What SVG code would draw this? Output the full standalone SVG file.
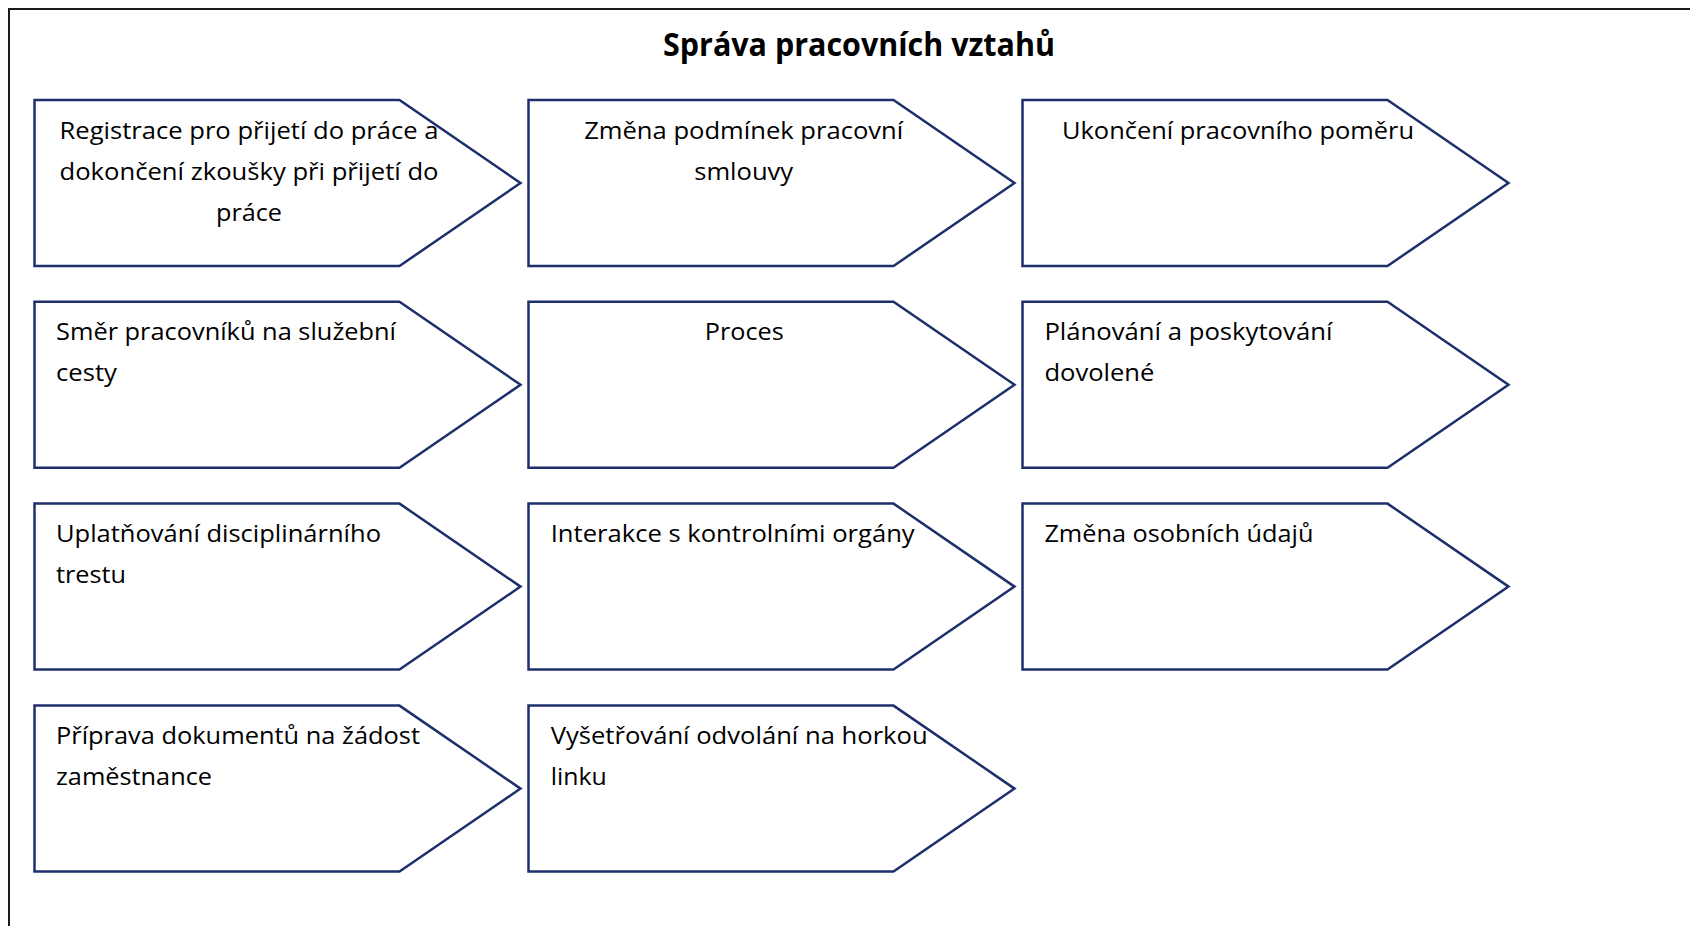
<svg xmlns="http://www.w3.org/2000/svg" xmlns:xlink="http://www.w3.org/1999/xlink" width="1690" height="926" viewBox="0 0 1690 926">
  <style>
    .frame { fill: #ffffff; stroke: #1a1a1a; stroke-width: 2; }
    .chev { fill: #ffffff; stroke: #1f2f6b; stroke-width: 2.5; stroke-linejoin: miter; }
    .title { font-family: "Open Sans", "Liberation Sans", sans-serif; font-weight: 700; font-size: 32px; fill: #000; }
    .lbl { font-family: "Open Sans", "Liberation Sans", sans-serif; font-size: 24.5px; fill: #000; }
    .c { text-anchor: middle; }
  </style>
  <defs>
    <path id="chev" class="chev" d="M0,0 H365 L486,83 L365,166 H0 Z"/>
  </defs>
  <rect x="0" y="0" width="1690" height="926" fill="#ffffff"/>
  <rect class="frame" x="9" y="9" width="1720" height="960"/>
  <text class="title c" x="859" y="56" textLength="392" lengthAdjust="spacingAndGlyphs">Správa pracovních vztahů</text>
  <g id="connectors"/>

  <g id="n1">
    <use xlink:href="#chev" x="34.5" y="100"/>
    <text class="lbl c" x="249" y="138.5" textLength="379" lengthAdjust="spacingAndGlyphs">Registrace pro přijetí do práce a</text>
    <text class="lbl c" x="249" y="179.5" textLength="379" lengthAdjust="spacingAndGlyphs">dokončení zkoušky při přijetí do</text>
    <text class="lbl c" x="249" y="220.5" textLength="66" lengthAdjust="spacingAndGlyphs">práce</text>
  </g>
  <g id="n2">
    <use xlink:href="#chev" x="528.5" y="100"/>
    <text class="lbl c" x="743.7" y="138.5" textLength="319" lengthAdjust="spacingAndGlyphs">Změna podmínek pracovní</text>
    <text class="lbl c" x="743.7" y="179.5" textLength="99" lengthAdjust="spacingAndGlyphs">smlouvy</text>
  </g>
  <g id="n3">
    <use xlink:href="#chev" x="1022.5" y="100"/>
    <text class="lbl c" x="1238" y="138.5" textLength="352" lengthAdjust="spacingAndGlyphs">Ukončení pracovního poměru</text>
  </g>

  <g id="n4">
    <use xlink:href="#chev" x="34.5" y="301.8"/>
    <text class="lbl" x="56" y="340" textLength="340" lengthAdjust="spacingAndGlyphs">Směr pracovníků na služební</text>
    <text class="lbl" x="56" y="381" textLength="61" lengthAdjust="spacingAndGlyphs">cesty</text>
  </g>
  <g id="n5">
    <use xlink:href="#chev" x="528.5" y="301.8"/>
    <text class="lbl c" x="744.3" y="340" textLength="79" lengthAdjust="spacingAndGlyphs">Proces</text>
  </g>
  <g id="n6">
    <use xlink:href="#chev" x="1022.5" y="301.8"/>
    <text class="lbl" x="1044.4" y="340" textLength="288" lengthAdjust="spacingAndGlyphs">Plánování a poskytování</text>
    <text class="lbl" x="1044.4" y="381" textLength="110" lengthAdjust="spacingAndGlyphs">dovolené</text>
  </g>

  <g id="n7">
    <use xlink:href="#chev" x="34.5" y="503.6"/>
    <text class="lbl" x="56" y="541.8" textLength="325" lengthAdjust="spacingAndGlyphs">Uplatňování disciplinárního</text>
    <text class="lbl" x="56" y="582.8" textLength="70" lengthAdjust="spacingAndGlyphs">trestu</text>
  </g>
  <g id="n8">
    <use xlink:href="#chev" x="528.5" y="503.6"/>
    <text class="lbl" x="550.7" y="541.8" textLength="364" lengthAdjust="spacingAndGlyphs">Interakce s kontrolními orgány</text>
  </g>
  <g id="n9">
    <use xlink:href="#chev" x="1022.5" y="503.6"/>
    <text class="lbl" x="1044.4" y="541.8" textLength="269" lengthAdjust="spacingAndGlyphs">Změna osobních údajů</text>
  </g>

  <g id="n10">
    <use xlink:href="#chev" x="34.5" y="705.6"/>
    <text class="lbl" x="56" y="743.8" textLength="364" lengthAdjust="spacingAndGlyphs">Příprava dokumentů na žádost</text>
    <text class="lbl" x="56" y="784.8" textLength="156" lengthAdjust="spacingAndGlyphs">zaměstnance</text>
  </g>
  <g id="n11">
    <use xlink:href="#chev" x="528.5" y="705.6"/>
    <text class="lbl" x="550.7" y="743.8" textLength="377" lengthAdjust="spacingAndGlyphs">Vyšetřování odvolání na horkou</text>
    <text class="lbl" x="550.7" y="784.8" textLength="56" lengthAdjust="spacingAndGlyphs">linku</text>
  </g>
</svg>
